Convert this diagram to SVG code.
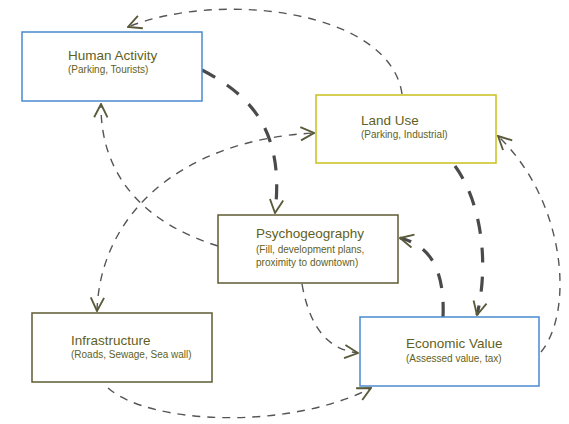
<svg xmlns="http://www.w3.org/2000/svg" width="569" height="424" viewBox="0 0 569 424">
<style>
.box{fill:#fff;stroke-width:1.5}
.blue{stroke:#4a8ad0}
.yel{stroke:#c9c01c}
.olv{stroke:#5d5b32}
.t{font-family:"Liberation Sans",Arial,sans-serif;font-size:13.5px;fill:#625f24}
.s{font-family:"Liberation Sans",Arial,sans-serif;font-size:10px;fill:#625f24}
.thin{fill:none;stroke:#555;stroke-width:1.4;stroke-dasharray:8 7}
.thick{fill:none;stroke:#4a4a4a;stroke-width:3.2;stroke-dasharray:15 14}
</style>
<defs>
<marker id="ah" markerUnits="userSpaceOnUse" markerWidth="16" markerHeight="16" viewBox="0 0 12 12" refX="11" refY="6" orient="auto-start-reverse">
<path d="M1,1 L11,6 L1,11" fill="none" stroke="#5a5a3a" stroke-width="1.4"/>
</marker>
</defs>
<g id="connectors">
<path class="thin" d="M402 94 C390 10 220 -10 128 27" marker-end="url(#ah)"/>
<path class="thick" d="M202 70 C250 95 285 130 275 213" marker-end="url(#ah)"/>
<path class="thin" d="M218 246 C150 225 100 180 101 104" marker-end="url(#ah)"/>
<path class="thin" d="M97 311 C100 215 180 140 314 133" marker-start="url(#ah)" marker-end="url(#ah)"/>
<path class="thick" d="M455 166 C480 200 490 260 477 315" marker-end="url(#ah)"/>
<path class="thick" d="M443 317 C445 270 430 245 400 238" marker-end="url(#ah)"/>
<path class="thin" d="M541 352 C575 310 565 200 498 136" marker-end="url(#ah)"/>
<path class="thin" d="M302 284 C310 330 330 350 358 353" marker-end="url(#ah)"/>
<path class="thin" d="M108 388 C150 425 290 430 371 388" marker-end="url(#ah)"/>
</g>
<g id="human-activity">
<rect class="box blue" x="22" y="32" width="180" height="69"/>
<text class="t" x="68" y="60">Human Activity</text>
<text class="s" x="68" y="73">(Parking, Tourists)</text>
</g>
<g id="land-use">
<rect class="box yel" x="316" y="95" width="180" height="68"/>
<text class="t" x="361" y="125">Land Use</text>
<text class="s" x="361" y="138">(Parking, Industrial)</text>
</g>
<g id="psychogeography">
<rect class="box olv" x="218" y="215" width="180" height="68"/>
<text class="t" x="256" y="238">Psychogeography</text>
<text class="s" x="256" y="253">(Fill, development plans,</text>
<text class="s" x="256" y="266">proximity to downtown)</text>
</g>
<g id="infrastructure">
<rect class="box olv" x="32" y="313" width="180" height="69"/>
<text class="t" x="71" y="345">Infrastructure</text>
<text class="s" x="71" y="358">(Roads, Sewage, Sea wall)</text>
</g>
<g id="economic-value">
<rect class="box blue" x="360" y="317" width="179" height="69"/>
<text class="t" x="406" y="348">Economic Value</text>
<text class="s" x="406" y="362">(Assessed value, tax)</text>
</g>
</svg>
